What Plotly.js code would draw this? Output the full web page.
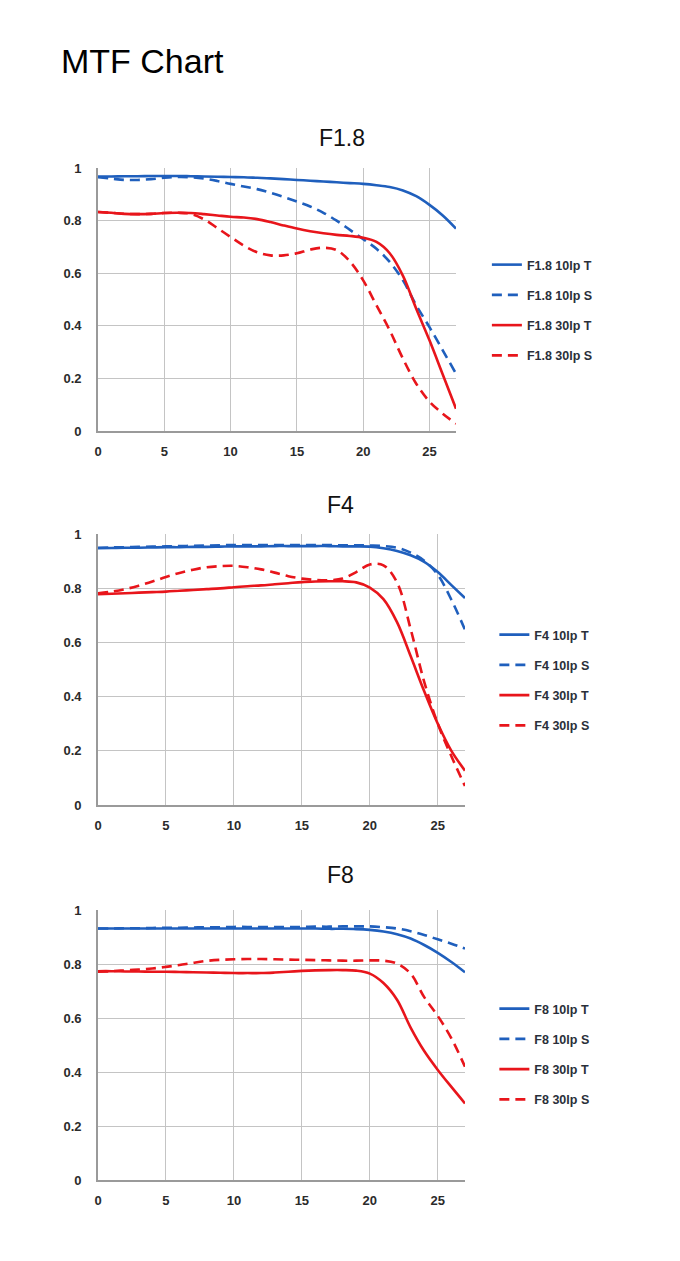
<!DOCTYPE html>
<html>
<head>
<meta charset="utf-8">
<script src="https://cdn.plot.ly/plotly-3.0.1.min.js"></script>
<style>html,body{margin:0;padding:0;background:#fff;}#chart{width:680px;height:1261px;}</style>
</head>
<body>
<div id="chart"></div>
<script>
// Field position (x) shared by all curves
const fieldX = [0,1,2,3,4,5,6,7,8,9,10,11,12,13,14,15,16,17,18,19,20,21,22,23,24,25,26,27];

// F1.8
const f18_10T = [0.968,0.968,0.969,0.969,0.970,0.970,0.970,0.969,0.968,0.967,0.966,0.965,0.963,0.961,0.958,0.955,0.952,0.949,0.946,0.943,0.940,0.935,0.928,0.915,0.893,0.860,0.820,0.770];
const f18_10S = [0.965,0.960,0.955,0.955,0.958,0.963,0.966,0.965,0.960,0.951,0.940,0.930,0.920,0.906,0.890,0.873,0.854,0.830,0.800,0.765,0.730,0.693,0.643,0.573,0.478,0.395,0.307,0.218];
const f18_30T = [0.833,0.830,0.826,0.825,0.826,0.829,0.830,0.829,0.825,0.820,0.815,0.812,0.806,0.795,0.782,0.770,0.760,0.752,0.746,0.742,0.735,0.719,0.676,0.590,0.465,0.345,0.215,0.085];
const f18_30S = [0.833,0.830,0.826,0.825,0.826,0.829,0.830,0.826,0.805,0.772,0.738,0.705,0.680,0.668,0.668,0.676,0.690,0.697,0.688,0.645,0.573,0.478,0.383,0.275,0.180,0.112,0.066,0.028];

// F4
const f4_10T = [0.948,0.949,0.950,0.950,0.951,0.952,0.952,0.953,0.953,0.954,0.955,0.955,0.955,0.956,0.956,0.956,0.956,0.956,0.955,0.955,0.954,0.948,0.938,0.922,0.898,0.860,0.812,0.764];
const f4_10S = [0.950,0.951,0.952,0.953,0.954,0.955,0.956,0.957,0.958,0.959,0.960,0.960,0.960,0.960,0.960,0.960,0.960,0.960,0.959,0.959,0.958,0.956,0.950,0.932,0.902,0.850,0.758,0.647];
const f4_30T = [0.778,0.780,0.782,0.784,0.786,0.788,0.791,0.794,0.797,0.800,0.804,0.808,0.811,0.815,0.819,0.823,0.825,0.826,0.826,0.822,0.803,0.760,0.675,0.550,0.420,0.300,0.200,0.127];
const f4_30S = [0.782,0.788,0.797,0.810,0.825,0.842,0.857,0.869,0.878,0.882,0.883,0.878,0.870,0.858,0.845,0.836,0.831,0.830,0.836,0.860,0.888,0.885,0.822,0.650,0.455,0.300,0.180,0.070];

// F8
const f8_10T = [0.932,0.932,0.932,0.932,0.932,0.932,0.932,0.932,0.932,0.932,0.932,0.932,0.932,0.932,0.932,0.932,0.932,0.931,0.931,0.930,0.927,0.921,0.911,0.895,0.871,0.842,0.808,0.770];
const f8_10S = [0.932,0.932,0.933,0.933,0.934,0.935,0.935,0.936,0.937,0.937,0.938,0.938,0.938,0.938,0.938,0.938,0.939,0.939,0.940,0.940,0.940,0.937,0.932,0.922,0.908,0.892,0.876,0.858];
const f8_30T = [0.774,0.774,0.773,0.773,0.772,0.772,0.771,0.770,0.769,0.768,0.767,0.767,0.767,0.769,0.772,0.775,0.777,0.778,0.778,0.776,0.765,0.730,0.668,0.565,0.478,0.408,0.345,0.284];
const f8_30S = [0.772,0.774,0.777,0.780,0.784,0.790,0.797,0.805,0.812,0.816,0.818,0.819,0.819,0.818,0.817,0.816,0.815,0.814,0.813,0.813,0.814,0.813,0.802,0.765,0.678,0.608,0.525,0.420];

const xTicks = [0,5,10,15,20,25];
const yTicks = [0,0.2,0.4,0.6,0.8,1];
const yTickText = ['0','0.2','0.4','0.6','0.8','1'];

const BLUE = '#1f5fbd';
const RED = '#e8151b';
const DASH = '10px,6px';

function tr(name, y, color, dashed, ax, lg) {
  return {
    type: 'scatter', mode: 'lines', x: fieldX, y: y, name: name,
    xaxis: 'x' + ax, yaxis: 'y' + ax, legend: lg, legendgroup: name,
    line: {color: color, width: 2.6, shape: 'spline', smoothing: 1, dash: dashed ? DASH : 'solid'},
    hoverinfo: 'x+y+name'
  };
}

const data = [
  tr('F1.8 10lp T', f18_10T, BLUE, false, '', 'legend'),
  tr('F1.8 10lp S', f18_10S, BLUE, true, '', 'legend'),
  tr('F1.8 30lp T', f18_30T, RED, false, '', 'legend'),
  tr('F1.8 30lp S', f18_30S, RED, true, '', 'legend'),
  tr('F4 10lp T', f4_10T, BLUE, false, '2', 'legend2'),
  tr('F4 10lp S', f4_10S, BLUE, true, '2', 'legend2'),
  tr('F4 30lp T', f4_30T, RED, false, '2', 'legend2'),
  tr('F4 30lp S', f4_30S, RED, true, '2', 'legend2'),
  tr('F8 10lp T', f8_10T, BLUE, false, '3', 'legend3'),
  tr('F8 10lp S', f8_10S, BLUE, true, '3', 'legend3'),
  tr('F8 30lp T', f8_30T, RED, false, '3', 'legend3'),
  tr('F8 30lp S', f8_30S, RED, true, '3', 'legend3')
];

const tickFont = {family: 'Liberation Sans, Arial, sans-serif', size: 13, color: '#2b2b2b', weight: 'bold'};

function xa(domain, anchor) {
  return {
    domain: domain, anchor: anchor, range: [0, 27], tickvals: xTicks,
    showgrid: true, gridcolor: '#c4c4c4', gridwidth: 1.4,
    showline: true, linecolor: '#9a9a9a', linewidth: 1.6,
    zeroline: false, ticks: '', tickfont: tickFont, ticklabelstandoff: 8, fixedrange: true
  };
}
function ya(domain, anchor) {
  return {
    domain: domain, anchor: anchor, range: [0, 1.0005], tickvals: yTicks, ticktext: yTickText,
    showgrid: true, gridcolor: '#c4c4c4', gridwidth: 1.4,
    showline: true, linecolor: '#9a9a9a', linewidth: 1.6,
    zeroline: false, ticks: '', tickfont: tickFont, ticklabelstandoff: 12, fixedrange: true
  };
}
function lg(x, y) {
  return {
    x: x, y: y, xanchor: 'left', yanchor: 'top', bgcolor: 'rgba(0,0,0,0)',
    font: {family: 'Liberation Sans, Arial, sans-serif', size: 12.5, color: '#2a2f3a', weight: 'bold'},
    traceorder: 'grouped', tracegroupgap: 11, itemclick: false, itemdoubleclick: false
  };
}

const subTitleFont = {family: 'Liberation Sans, Arial, sans-serif', size: 23, color: '#111'};

const layout = {
  width: 680, height: 1261,
  margin: {l: 0, r: 0, t: 0, b: 0},
  paper_bgcolor: '#ffffff', plot_bgcolor: '#ffffff',
  title: {text: 'MTF Chart', x: 61/680, xanchor: 'left', y: 1 - 61/1261, yanchor: 'middle',
          font: {family: 'Liberation Sans, Arial, sans-serif', size: 34, color: '#000'}},
  xaxis: xa([0.1441, 0.6706], 'y'),
  yaxis: ya([0.6582, 0.8668], 'x'),
  xaxis2: xa([0.1441, 0.6838], 'y2'),
  yaxis2: ya([0.3616, 0.5765], 'x2'),
  xaxis3: xa([0.1441, 0.6838], 'y3'),
  yaxis3: ya([0.0642, 0.2783], 'x3'),
  legend: lg(0.716, 1 - 250/1261),
  legend2: lg(0.727, 1 - 620/1261),
  legend3: lg(0.727, 1 - 994/1261),
  annotations: [
    {text: 'F1.8', x: 342/680, y: 1 - 138/1261, xref: 'paper', yref: 'paper', showarrow: false, xanchor: 'center', yanchor: 'middle', font: subTitleFont},
    {text: 'F4', x: 340/680, y: 1 - 505/1261, xref: 'paper', yref: 'paper', showarrow: false, xanchor: 'center', yanchor: 'middle', font: subTitleFont},
    {text: 'F8', x: 340/680, y: 1 - 875/1261, xref: 'paper', yref: 'paper', showarrow: false, xanchor: 'center', yanchor: 'middle', font: subTitleFont}
  ],
  showlegend: true
};

Plotly.newPlot('chart', data, layout, {displayModeBar: false, staticPlot: false, responsive: false});
</script>
</body>
</html>
